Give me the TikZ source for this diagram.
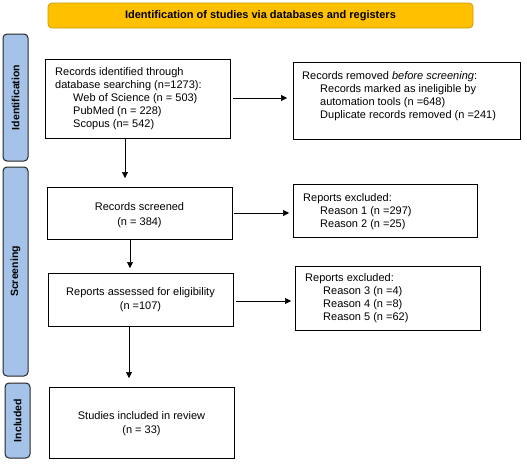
\documentclass[tikz,border=0pt]{standalone}
\usepackage{fontspec}
\setmainfont{Liberation Sans}
\usetikzlibrary{arrows.meta}
\definecolor{gold}{HTML}{FFC000}
\definecolor{goldline}{HTML}{C8A000}
\definecolor{sideblue}{HTML}{A5C3E8}
\tikzset{
  every node/.style={font=\fontsize{11}{13}\selectfont},
  box/.style={draw=black, line width=0.9pt, inner sep=0pt},
  ctext/.style={align=center, inner sep=0pt, font=\fontsize{11}{14}\selectfont},
  side/.style={draw=black!85, fill=sideblue, line width=1pt, rounded corners=4pt},
  sidelabel/.style={rotate=90, font=\fontsize{10.5}{12}\selectfont\bfseries},
  arr/.style={-{Triangle[length=6pt,width=6pt]}, line width=0.6pt},
}
\begin{document}
\begin{tikzpicture}[x=1pt,y=-1pt]
\useasboundingbox (0,0) rectangle (527,464);
% banner
\draw[fill=gold, draw=goldline, line width=0.8pt, rounded corners=4pt] (48,3) rectangle (473,28);
\node[font=\fontsize{11}{13}\selectfont\bfseries] (banner) at (260.5,16) {Identification of studies via databases and registers};
% side bars
\draw[side] (3,34) rectangle (28,161);
\node[sidelabel] (sid) at (15.5,97.5) {Identification};
\draw[side] (3,167) rectangle (28,376);
\node[sidelabel] (sscr) at (15.5,271.5) {Screening};
\draw[side] (5,383) rectangle (30,458);
\node[sidelabel] (sinc) at (17.5,420.5) {Included};
% boxes
\node[box, minimum width=185pt, minimum height=79pt] (b1) at (137.5,98.5) {};
\node[anchor=north west, align=left, inner sep=0pt] (t1) at (55,67) {Records identified through\\database searching (n=1273):\\\hspace*{18pt}Web of Science (n = 503)\\\hspace*{18pt}PubMed (n = 228)\\\hspace*{18pt}Scopus (n= 542)};
\node[box, minimum width=227pt, minimum height=77pt] (b2) at (406.5,100.5) {};
\node[anchor=north west, align=left, inner sep=0pt] (t2) at (302,71) {Records removed \textit{before screening}:\\\hspace*{18pt}Records marked as ineligible by\\\hspace*{18pt}automation tools (n =648)\\\hspace*{18pt}Duplicate records removed (n =241)};
\node[box, minimum width=185pt, minimum height=52pt] (b3) at (139.5,213) {};
\node[ctext, font=\fontsize{11}{14.5}\selectfont] (t3) at (139.5,215) {Records screened\\(n = 384)};
\node[box, minimum width=184pt, minimum height=53pt] (b4) at (385,210.5) {};
\node[anchor=north west, align=left, inner sep=0pt] (t4) at (303,193) {Reports excluded:\\\hspace*{17pt}Reason 1 (n =297)\\\hspace*{17pt}Reason 2 (n =25)};
\node[box, minimum width=185pt, minimum height=53pt] (b5) at (140.5,299.5) {};
\node[ctext] (t5) at (140.5,300) {Reports assessed for eligibility\\(n =107)};
\node[box, minimum width=185pt, minimum height=64pt] (b6) at (387.5,298) {};
\node[anchor=north west, align=left, inner sep=0pt] (t6) at (305,273) {Reports excluded:\\\hspace*{18pt}Reason 3 (n =4)\\\hspace*{18pt}Reason 4 (n =8)\\\hspace*{18pt}Reason 5 (n =62)};
\node[box, minimum width=185pt, minimum height=71pt] (b7) at (141.5,422.5) {};
\node[ctext] (t7) at (141.5,424) {Studies included in review\\(n = 33)};
% arrow end points
\coordinate (h1s) at (233,98);  \coordinate (h1e) at (287,98);
\coordinate (h2s) at (234,213); \coordinate (h2e) at (289,213);
\coordinate (h3s) at (236,301); \coordinate (h3e) at (291,301);
\coordinate (v1s) at (125,138); \coordinate (v1e) at (125,178);
\coordinate (v2s) at (130,239); \coordinate (v2e) at (130,268);
\coordinate (v3s) at (129,326); \coordinate (v3e) at (129,378);
\draw[arr] (h1s) -- (h1e);
\draw[arr] (h2s) -- (h2e);
\draw[arr] (h3s) -- (h3e);
\draw[arr] (v1s) -- (v1e);
\draw[arr] (v2s) -- (v2e);
\draw[arr] (v3s) -- (v3e);
\end{tikzpicture}
\end{document}
